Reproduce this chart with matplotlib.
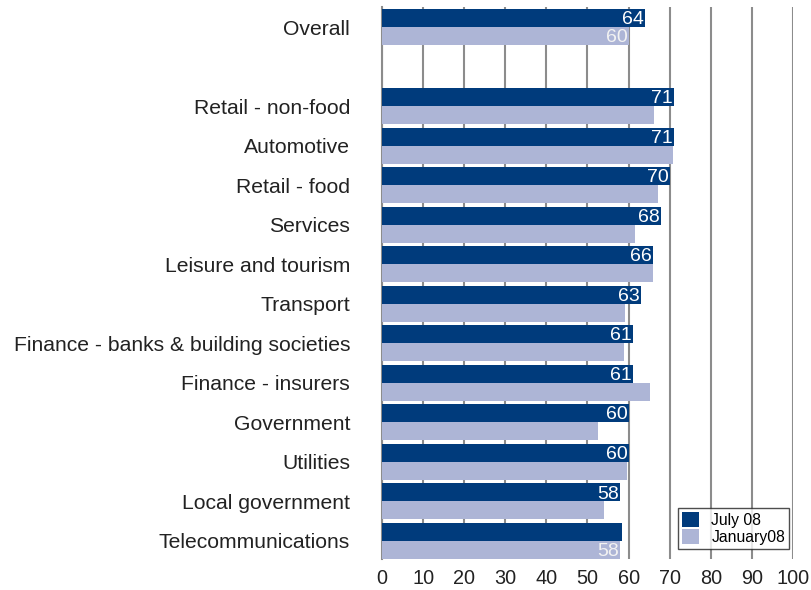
import matplotlib
matplotlib.use("Agg")
import matplotlib.pyplot as plt
from matplotlib.patches import Patch

plt.rcParams['font.family'] = ['Liberation Sans', 'DejaVu Sans']

categories = ["Overall", "", "Retail - non-food", "Automotive", "Retail - food",
              "Services", "Leisure and tourism", "Transport",
              "Finance - banks & building societies", "Finance - insurers",
              "Government", "Utilities", "Local government", "Telecommunications"]
july08 = [64, None, 71, 71, 70, 68, 66, 63, 61, 61, 60, 60, 58, 58.4]
jan08 = [60, None, 66.1, 70.9, 67.1, 61.5, 65.9, 59.1, 58.8, 65.2, 52.5, 59.6, 54.0, 58]
july_labels = ["64", "", "71", "71", "70", "68", "66", "63", "61", "61", "60", "60", "58", ""]
jan_labels = ["60", "", "", "", "", "", "", "", "", "", "", "", "", "58"]
xticks = [0, 10, 20, 30, 40, 50, 60, 70, 80, 90, 100]

dark = "#003b7c"
light = "#adb5d6"

fig = plt.figure(figsize=(8.11, 5.90), dpi=100)
W, H = 811, 590
ax = fig.add_axes([382 / W, 1 - 559 / H, (793 - 382) / W, (559 - 7) / H])

bh = 0.456
for i, (a, b) in enumerate(zip(july08, jan08)):
    if a is None:
        continue
    ax.barh(i - bh / 2, a, height=bh, color=dark, zorder=3)
    ax.barh(i + bh / 2, b, height=bh, color=light, zorder=3)
    if july_labels[i]:
        ax.text(a - 0.3, i - bh / 2 + 0.04, july_labels[i], color="white",
                ha="right", va="center", fontsize=14, zorder=4)
    if jan_labels[i]:
        ax.text(b - 0.3, i + bh / 2 + 0.04, jan_labels[i], color="#f2f2f2",
                ha="right", va="center", fontsize=14, zorder=4)

ax.set_xlim(0, 100)
ax.set_ylim(13.456, -0.506)
ax.set_yticks(range(len(categories)))
ax.set_yticklabels(categories, fontsize=15.2, color="#222222")
ax.tick_params(axis="y", length=0, pad=23)
ax.set_xticks(xticks)
ax.set_xticklabels([str(t) for t in xticks], fontsize=14.3, color="#222222")
ax.tick_params(axis="x", length=0, pad=7)

ax.grid(axis="x", color="#8c8c8c", linewidth=1.5, zorder=0)
for s in ["top", "right", "bottom"]:
    ax.spines[s].set_visible(False)
ax.spines["left"].set_color("#8c8c8c")
ax.spines["left"].set_linewidth(1.5)

handles = [Patch(facecolor=dark, edgecolor="none", label="July 08"),
           Patch(facecolor=light, edgecolor="none", label="January08")]
leg = fig.legend(handles=handles, loc="lower right",
                 bbox_to_anchor=(789 / W, 1 - 549 / H),
                 fontsize=11.3, frameon=True, fancybox=False,
                 handlelength=1.1, handleheight=1.1, handletextpad=0.8,
                 borderpad=0.25, labelspacing=0.1, borderaxespad=0)
leg.get_frame().set_edgecolor("#222222")
leg.get_frame().set_linewidth(1.0)

fig.savefig("out.png", dpi=100)
